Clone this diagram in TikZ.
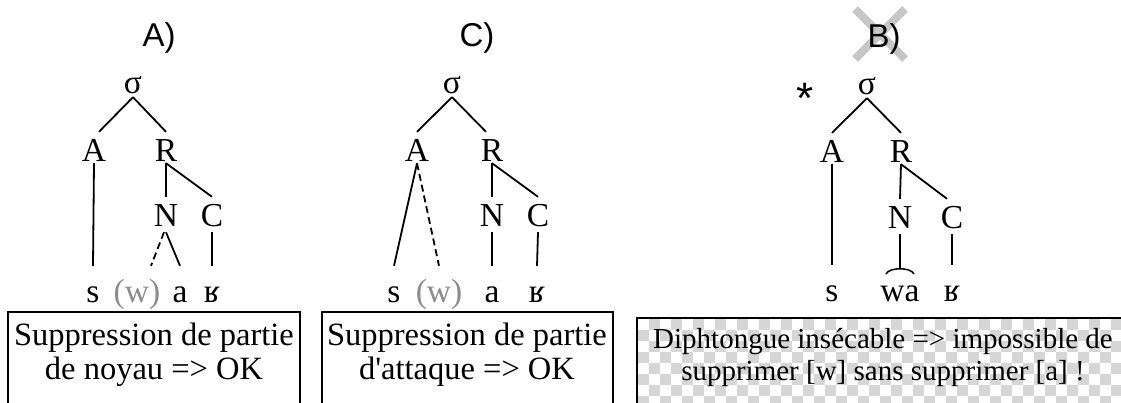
\documentclass[tikz,border=0pt]{standalone}
\usepackage{fontspec}
\setmainfont{Liberation Serif}[Ligatures=TeXOff]
\newfontfamily\labfont{Liberation Sans}
\definecolor{wgray}{RGB}{140,140,140}
\definecolor{xgray}{RGB}{198,198,198}
\definecolor{chk}{RGB}{214,214,214}
\begin{document}
\begin{tikzpicture}[x=1pt,y=-1pt,
  tr/.style={font=\fontsize{33.5}{33}\selectfont, inner sep=0pt, anchor=base},
  sg/.style={tr, text depth=3pt},
  ra/.style={tr, text height=30pt, text depth=1pt},
  rb/.style={tr, text height=30pt, text depth=5pt},
  rc/.style={tr, text height=36pt, text depth=0pt},
  lab/.style={font=\labfont\fontsize{33}{33}\selectfont, inner sep=0pt, anchor=base},
  edge/.style={line width=1.8pt},
  dedge/.style={edge, dash pattern=on 7pt off 4pt},
  btxt/.style={font=\fontsize{32.5}{33}\selectfont, inner sep=0pt, anchor=base},
  ctxt/.style={font=\fontsize{29}{29}\selectfont, inner sep=0pt, anchor=base},
  boxline/.style={line width=1.3pt},
]
\useasboundingbox (0,0) rectangle (1121,403);
\clip (0,0) rectangle (1121,403);
\fill[white] (0,0) rectangle (1121,403);

% ---------- Panel A ----------
\node[lab] (labA) at (159,47) {A)};
\node[sg] (sA) at (133,94) {σ};
\node[ra] (AA) at (94,162) {A};
\node[ra] (RA) at (166,162) {R};
\node[rb] (NA) at (166,227) {N};
\node[rb] (CA) at (212,227) {C};
\node[rc] (s1) at (93,302) {s};
\node[rc, text=wgray] (w1) at (137,302) {(w)};
\node[rc] (a1) at (180,302) {a};
\node[rc] (r1) at (212,302) {ʁ};
\draw[edge] (sA.south) -- ([xshift=5pt]AA.north);
\draw[edge] (sA.south) -- (RA.north);
\draw[edge] (AA.south) -- (s1.north);
\draw[edge] (RA.south) -- (NA.north);
\draw[edge] (RA.south) -- (CA.north);
\draw[dedge] ([xshift=-2pt]NA.south) -- ([xshift=14pt]w1.north);
\draw[edge] (NA.south) -- (a1.north);
\draw[edge] (CA.south) -- (r1.north);

% ---------- Panel C ----------
\node[lab] (labC) at (477,47) {C)};
\node[sg] (sC) at (452,94) {σ};
\node[ra] (AC) at (417,162) {A};
\node[ra] (RC) at (492,162) {R};
\node[rb] (NC) at (492,227) {N};
\node[rb] (CC) at (538,227) {C};
\node[rc] (s2) at (394,302) {s};
\node[rc, text=wgray] (w2) at (439,302) {(w)};
\node[rc] (a2) at (492,302) {a};
\node[rc] (r2) at (537,302) {ʁ};
\draw[edge] (sC.south) -- (AC.north);
\draw[edge] (sC.south) -- ([xshift=-6pt]RC.north);
\draw[edge] (AC.south) -- (s2.north);
\draw[dedge] (AC.south) -- (w2.north);
\draw[edge] (RC.south) -- (NC.north);
\draw[edge] (RC.south) -- (CC.north);
\draw[edge] (NC.south) -- (a2.north);
\draw[edge] (CC.south) -- (r2.north);

% ---------- Panel B ----------
\draw[xgray, line width=8pt] (855,9) -- (905,59);
\draw[xgray, line width=8pt] (905,9) -- (855,59);
\node[lab] (labB) at (884,48) {B)};
\node[lab, font=\labfont\fontsize{44}{44}\selectfont] (star) at (805,114) {*};
\node[sg] (sB) at (867,95) {σ};
\node[ra] (AB) at (832,163) {A};
\node[ra] (RB) at (901,163) {R};
\node[rb] (NB) at (900,229) {N};
\node[rb] (CB) at (952,229) {C};
\node[rc] (s3) at (832,301) {s};
\node[rc] (wa3) at (900,301) {wa};
\node[rc] (r3) at (952,301) {ʁ};
\coordinate (tie) at (900,268);
\draw[edge] (sB.south) -- (AB.north);
\draw[edge] (sB.south) -- (RB.north);
\draw[edge] (AB.south) -- (s3.north);
\draw[edge] (RB.south) -- (NB.north);
\draw[edge] (RB.south) -- ([xshift=-5pt]CB.north);
\draw[edge] (NB.south) -- (tie);
\draw[line width=1.5pt] (886,274) .. controls (889,267) and (911,267) .. (914,274);
\draw[edge] (CB.south) -- (r3.north);

% ---------- Boxes ----------
\draw[boxline] (8,312) rectangle (300,420);
\node[btxt] (t1a) at (154,345) {Suppression de partie};
\node[btxt] (t1b) at (154,379) {de noyau => OK};

\draw[boxline] (322,312) rectangle (613,420);
\node[btxt] (t2a) at (467,345) {Suppression de partie};
\node[btxt] (t2b) at (467,379) {d'attaque => OK};

\foreach \i in {0,...,44}{\foreach \j in {0,...,8}{
  \pgfmathtruncatemacro\k{mod(\i+\j,2)}
  \ifnum\k=1 \fill[chk] ({638+11*\i},{319+11*\j}) rectangle ++(11,11);\fi
}}
\draw[boxline] (637,420) -- (637,318) -- (1130,318);
\node[ctxt] (t3a) at (883,348) {Diphtongue insécable => impossible de};
\node[ctxt] (t3b) at (883,380) {supprimer [w] sans supprimer [a] !};
\end{tikzpicture}
\end{document}
